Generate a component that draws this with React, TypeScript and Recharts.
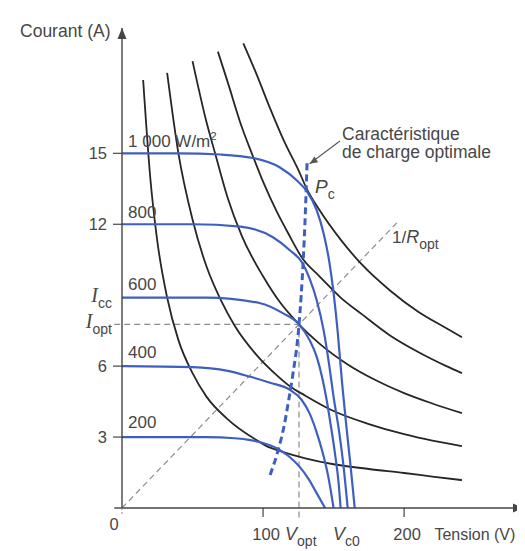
import React from 'react';
import { LineChart, Line, XAxis, YAxis, ReferenceLine, ReferenceDot } from 'recharts';

// ---- axis ticks ----
const VOLTAGE_TICKS = [0, 100, 200];
const I_CC = 8.9;
const I_OPT = 7.77;
const V_OPT = 125.5;
const CURRENT_TICKS = [3, 6, I_OPT, I_CC, 12, 15];
const R_OPT_END = [196, 12.13];

// ---- irradiance labels ----
const irradianceLabels = ['1 000', '800', '600', '400', '200'];
const irradianceLabelCurrent = [15.27, 12.26, 9.22, 6.34, 3.38];

// ---- I-V characteristics (V, I) ----
const iv1000 = [[0, 15], [40, 15], [70, 14.95], [93, 14.8], [112, 14.4], [124, 13.85], [131, 13.4], [138, 12.6], [143, 11.6], [147, 10.4], [150, 9.1], [153, 7.4], [156, 5.3], [159, 3.5], [162, 1.8], [165, 0]];
const iv800 = [[0, 12], [50, 12], [84, 11.9], [107, 11.45], [119, 10.9], [128, 10.35], [133, 9.7], [138, 8.8], [143, 7.5], [147, 6], [150, 4.7], [154, 3.2], [157, 1.8], [160, 0]];
const iv600 = [[0, 8.9], [60, 8.9], [98, 8.66], [114, 8.24], [125.5, 7.77], [133, 7.1], [138, 6.4], [142, 5.5], [145, 4.6], [148, 3.5], [151, 2.3], [153.5, 1.1], [155, 0]];
const iv400 = [[0, 6], [50, 5.96], [75, 5.8], [91, 5.55], [105, 5.3], [119, 5.0], [127, 4.6], [133, 4.0], [138, 3.2], [142, 2.4], [146, 1.4], [150, 0]];
const iv200 = [[0, 3], [60, 3], [80, 2.95], [91, 2.87], [100, 2.75], [110, 2.52], [118, 2.2], [126, 1.74], [132, 1.25], [138, 0.63], [144, 0]];

// ---- constant power curves (V, I) ----
const pw1 = [[15, 18.1], [20, 14.0], [25, 11.3], [32, 8.9], [40, 7.1], [50, 5.7], [60, 4.7], [75, 3.75], [96, 2.85], [105, 2.55], [110, 2.45], [130, 2.1], [150, 1.85], [175, 1.65], [200, 1.48], [220, 1.33], [241, 1.18]];
const pw2 = [[32, 18.4], [40, 15.0], [50, 12.2], [60, 10.2], [70, 8.8], [80, 7.7], [95, 6.5], [110, 5.6], [119, 5.15], [130, 4.75], [150, 4.1], [175, 3.55], [200, 3.12], [220, 2.85], [241, 2.62]];
const pw3 = [[50, 18.9], [60, 16.3], [66, 15.0], [75, 13.1], [85, 11.5], [100, 9.8], [112, 8.7], [125.5, 7.77], [140, 6.95], [160, 6.07], [180, 5.4], [200, 4.86], [220, 4.42], [241, 4.01]];
const pw4 = [[68, 19.3], [75, 18.0], [85, 16.1], [92, 15.0], [100, 13.8], [110, 12.5], [118, 11.6], [128, 10.55], [140, 9.8], [155, 8.9], [170, 8.2], [190, 7.3], [210, 6.6], [230, 6.0], [241, 5.7]];
const pw5 = [[86, 19.65], [95, 18.4], [105, 16.9], [115, 15.5], [125, 14.3], [131, 13.5], [140, 12.6], [155, 11.35], [170, 10.3], [190, 9.2], [210, 8.3], [230, 7.6], [241, 7.22]];

// ---- optimal load characteristic (V, I) ----
const optimalLoad = [[105, 1.4], [110, 2.3], [115, 3.5], [118, 4.5], [121, 5.6], [125.5, 7.77], [128.5, 10.5], [130, 12.5], [131.2, 14.6]];

const toPts = (arr: number[][]) => arr.map(([v, i]) => ({ v, i }));

const ivCurves = [iv1000, iv800, iv600, iv400, iv200];
const powerCurves = [pw1, pw2, pw3, pw4, pw5];

const FONT = "'Liberation Sans', Arial, Helvetica, sans-serif";
const SERIF = "'Liberation Serif', 'Times New Roman', serif";
const TXT = '#474747';
const AXIS = '#444';
const BLUE = '#3f5fc0';
const BLACK = '#262626';
const GRAY = '#8c8c8c';

const YTick = (props: any) => {
  const { x, y, payload } = props;
  const val = payload.value;
  if (val === I_CC || val === I_OPT) {
    const sub = val === I_CC ? 'cc' : 'opt';
    return (
      <g>
        <text x={x - 10} y={y + 4} textAnchor="end" fill={TXT} fontFamily={FONT}>
          <tspan fontFamily={SERIF} fontStyle="italic" fontSize={20}>I</tspan>
          <tspan fontSize={14} dy={6}>{sub}</tspan>
        </text>
      </g>
    );
  }
  return (
    <g>
      <line x1={x - 9} x2={x} y1={y} y2={y} stroke={AXIS} strokeWidth={1.2} />
      <text x={x - 15} y={y + 6} textAnchor="end" fill={TXT} fontFamily={FONT} fontSize={16.5}>{val}</text>
    </g>
  );
};

const XTick = (props: any) => {
  const { x, y, payload } = props;
  const v = payload.value;
  if (v === 0) {
    return (
      <g>
        <line x1={x} x2={x} y1={y} y2={y + 8} stroke={GRAY} strokeDasharray="2 2" />
        <text x={x - 8} y={y + 22} textAnchor="middle" fill={TXT} fontFamily={FONT} fontSize={16.5}>0</text>
      </g>
    );
  }
  return (
    <g>
      <line x1={x} x2={x} y1={y} y2={y + 9} stroke={AXIS} strokeWidth={1.2} />
      <text x={x + 3} y={y + 32} textAnchor="middle" fill={TXT} fontFamily={FONT} fontSize={16.5}>{v}</text>
    </g>
  );
};

const note = (key: string, v: number, i: number, node: React.ReactNode) => (
  <ReferenceDot
    key={key}
    x={v}
    y={i}
    r={0}
    ifOverflow="visible"
    shape={(p: any) => <g transform={`translate(${p.cx},${p.cy})`}>{node}</g>}
  />
);

export default function App() {
  return (
    <div style={{ width: 517, height: 543 }}>
      <LineChart width={517} height={543} margin={{ top: 20, right: 1, bottom: 3, left: 54 }}>
        <XAxis
          type="number"
          dataKey="v"
          domain={[0, 285]}
          ticks={VOLTAGE_TICKS}
          allowDataOverflow
          height={40}
          tickSize={0}
          tickMargin={0}
          tickLine={false}
          axisLine={{ stroke: AXIS, strokeWidth: 1.4 }}
          tick={<XTick />}
          interval={0}
        />
        <YAxis
          type="number"
          dataKey="i"
          domain={[0, 20.3]}
          ticks={CURRENT_TICKS}
          allowDataOverflow
          width={60}
          tickSize={0}
          tickMargin={0}
          tickLine={false}
          axisLine={{ stroke: AXIS, strokeWidth: 1.4 }}
          tick={<YTick />}
          interval={0}
        />

        {/* gray dashed construction lines */}
        <ReferenceLine ifOverflow="visible" segment={[{ x: -5.5, y: I_OPT }, { x: V_OPT, y: I_OPT }]} stroke={GRAY} strokeWidth={1.2} strokeDasharray="6 4" />
        <ReferenceLine ifOverflow="visible" segment={[{ x: V_OPT, y: -0.4 }, { x: V_OPT, y: I_OPT }]} stroke={GRAY} strokeWidth={1.2} strokeDasharray="6 4" />
        <ReferenceLine ifOverflow="visible" segment={[{ x: 0, y: 0 }, { x: R_OPT_END[0], y: R_OPT_END[1] }]} stroke={GRAY} strokeWidth={1.2} strokeDasharray="6 4" />
        <ReferenceLine ifOverflow="visible" segment={[{ x: -5.5, y: 0 }, { x: 0, y: 0 }]} stroke={AXIS} strokeWidth={1.4} />

        {powerCurves.map((c, k) => (
          <Line key={'p' + k} data={toPts(c)} dataKey="i" type="monotone" stroke={BLACK} strokeWidth={1.8} dot={false} activeDot={false} isAnimationActive={false} />
        ))}
        {ivCurves.map((c, k) => (
          <Line key={'iv' + k} data={toPts(c)} dataKey="i" type="monotone" stroke={BLUE} strokeWidth={2.2} dot={false} activeDot={false} isAnimationActive={false} />
        ))}
        <Line data={toPts(optimalLoad)} dataKey="i" type="monotone" stroke={BLUE} strokeWidth={3} strokeDasharray="7 4" dot={false} activeDot={false} isAnimationActive={false} />

        {/* pointer to optimal load characteristic */}
        <ReferenceLine ifOverflow="visible" segment={[{ x: 154.5, y: 15.52 }, { x: 133, y: 14.56 }]} stroke="#555" strokeWidth={1.1} />
        {note('arrowTip', 133, 14.56, <polygon points="0,0 8.5,-1.5 4.8,-7.2" fill="#555" />)}

        {/* axis arrows */}
        {note('xArrow', 285, 0, <polygon points="0,0 -11,-4.5 -11,4.5" fill={AXIS} />)}
        {note('yArrow', 0, 20.3, <polygon points="0,0 -4.5,11 4.5,11" fill={AXIS} />)}

        {/* axis titles */}
        {note('yTitle', -72.3, 19.92, <text x={0} y={0} fill={TXT} fontFamily={FONT} fontSize={17.5}>Courant (A)</text>)}
        {note('xTitle', 221.5, -1.35, <text x={0} y={0} fill={TXT} fontFamily={FONT} fontSize={16}>Tension (V)</text>)}
        {note('vopt', 115.6, -1.35, (
          <text x={0} y={0} fill={TXT} fontFamily={FONT}>
            <tspan fontStyle="italic" fontSize={18}>V</tspan>
            <tspan fontSize={14} dy={6}>opt</tspan>
          </text>
        ))}
        {note('vc0', 149.6, -1.35, (
          <text x={0} y={0} fill={TXT} fontFamily={FONT}>
            <tspan fontStyle="italic" fontSize={18}>V</tspan>
            <tspan fontSize={14} dy={6}>c0</tspan>
          </text>
        ))}

        {/* irradiance labels */}
        {irradianceLabels.map((lab, k) =>
          note('irr' + k, 4.3, irradianceLabelCurrent[k], k === 0 ? (
            <text x={0} y={0} fill={TXT} fontFamily={FONT} fontSize={17}>
              <tspan>{lab} W/m</tspan>
              <tspan fontSize={11.5} dy={-7}>2</tspan>
            </text>
          ) : (
            <text x={0} y={0} fill={TXT} fontFamily={FONT} fontSize={17}>{lab}</text>
          ))
        )}

        {/* annotations */}
        {note('carac', 156, 15.56, (
          <text x={0} y={0} fill={TXT} fontFamily={FONT} fontSize={17.5}>
            <tspan x={0}>Caractéristique</tspan>
            <tspan x={0} dy={18}>de charge optimale</tspan>
          </text>
        ))}
        {note('pc', 136.8, 13.32, (
          <text x={0} y={0} fill={TXT} fontFamily={FONT}>
            <tspan fontStyle="italic" fontSize={19}>P</tspan>
            <tspan fontSize={14} dy={6}>c</tspan>
          </text>
        ))}
        {note('ropt', 191.4, 11.21, (
          <text x={0} y={0} fill={TXT} fontFamily={FONT}>
            <tspan fontSize={17}>1/</tspan>
            <tspan fontStyle="italic" fontSize={18}>R</tspan>
            <tspan fontSize={14} dy={6}>opt</tspan>
          </text>
        ))}
      </LineChart>
    </div>
  );
}
